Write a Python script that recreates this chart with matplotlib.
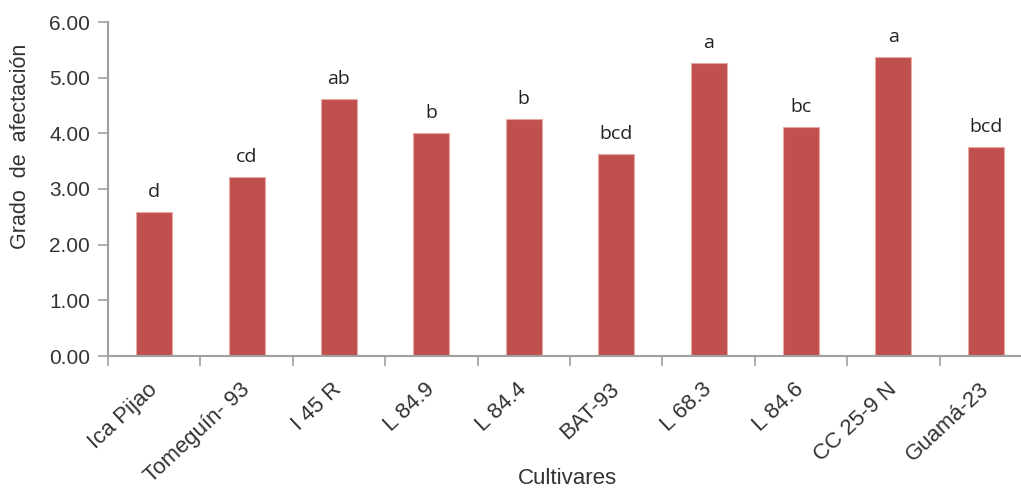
#!/usr/bin/env python3
# Grado de afectación por cultivar, con letras de significación sobre cada barra

import matplotlib.pyplot as plt
import numpy as np

cultivares = ['Ica Pijao', 'Tomeguín- 93', 'I 45 R', 'L 84.9', 'L 84.4',
              'BAT-93', 'L 68.3', 'L 84.6', 'CC 25-9 N', 'Guamá-23']
afectacion = [2.59, 3.21, 4.62, 4.00, 4.25, 3.62, 5.26, 4.12, 5.37, 3.75]
letras = ['d', 'cd', 'ab', 'b', 'b', 'bcd', 'a', 'bc', 'a', 'bcd']

bar_color = '#C0504D'
axis_color = '#A0A0A0'
text_color = '#333333'

plt.rcParams['font.family'] = ['Liberation Sans', 'DejaVu Sans']

fig = plt.figure(figsize=(10.21, 4.88), dpi=100)
# axes run past the right edge of the figure
ax = fig.add_axes([108 / 1021, 132 / 488, 924 / 1021, 334 / 488])

x = np.arange(len(cultivares))
ax.bar(x, afectacion, width=0.39, color=bar_color,
       edgecolor='#E8A8A6', linewidth=0.8)

# significance letters above bars
for xi, v, t in zip(x, afectacion, letras):
    ax.text(xi, v + 0.2, t, ha='center', va='bottom', fontsize=14,
            family=['Open Sans', 'DejaVu Sans'], color='#222222')

ax.set_xlim(-0.5, len(cultivares) - 0.5)
ax.set_ylim(0, 6)
ax.set_yticks(np.arange(0, 6.01, 1))
ax.set_yticklabels([f'{v:.2f}' for v in np.arange(0, 6.01, 1)])

# category boundaries get the tick marks, labels sit at the centres
ax.set_xticks(np.arange(-0.5, len(cultivares), 1), minor=True)
ax.set_xticks(x)
ax.set_xticklabels(cultivares, rotation=43, ha='right', va='center',
                   rotation_mode='anchor')
ax.tick_params(axis='x', which='major', length=0, pad=22,
               labelsize=16, labelcolor=text_color)
ax.tick_params(axis='x', which='minor', length=7, width=1.2,
               color=axis_color, direction='out')
ax.tick_params(axis='y', length=7, width=1.2, color=axis_color,
               direction='out', labelsize=15, labelcolor=text_color, pad=6)

for side in ('top', 'right'):
    ax.spines[side].set_visible(False)
for side in ('left', 'bottom'):
    ax.spines[side].set_color(axis_color)
    ax.spines[side].set_linewidth(1.5)

ax.set_ylabel('Grado  de  afectación', fontsize=15.5, color=text_color)
ax.yaxis.set_label_coords(-(108 - 31) / 924, (356 - 146) / 334)
ax.set_xlabel('Cultivares', fontsize=16, color=text_color)
ax.xaxis.set_label_coords((567 - 108) / 924, -(468 - 356) / 334)

fig.savefig('out.png', dpi=100)
